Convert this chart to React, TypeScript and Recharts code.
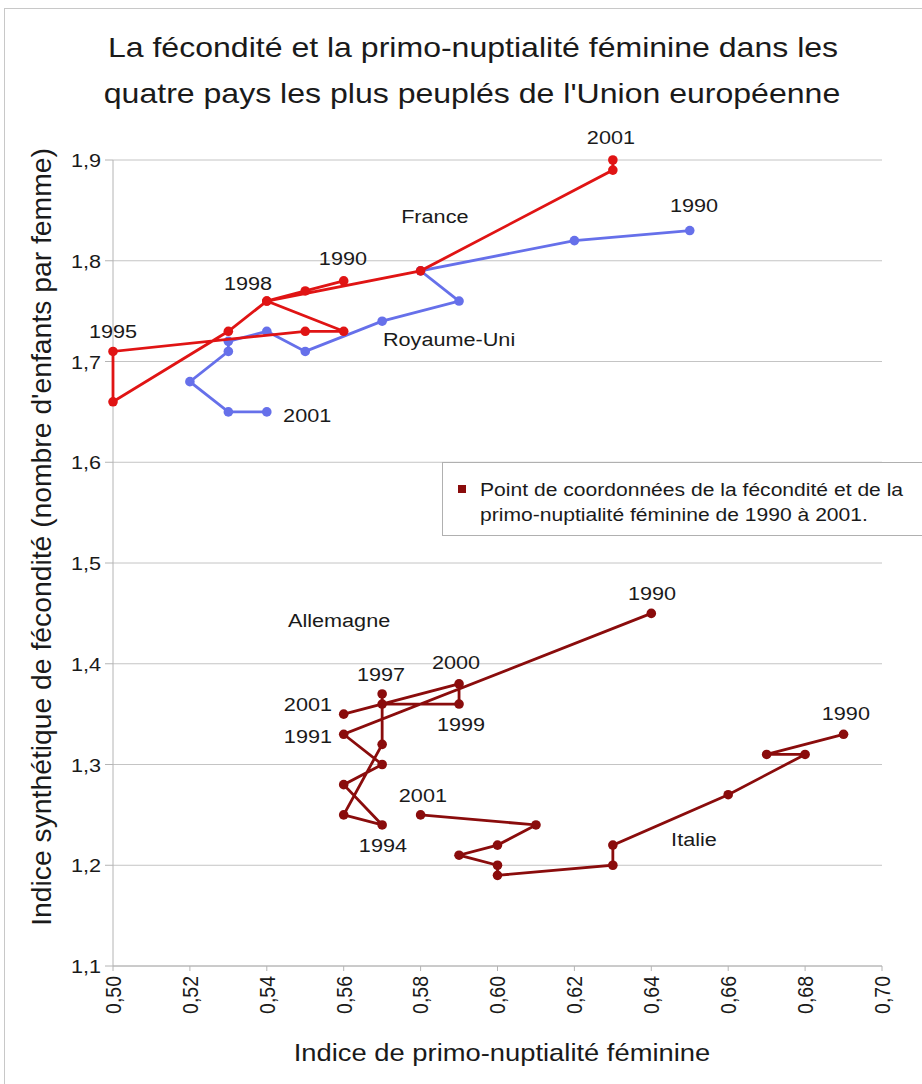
import React from 'react';
import { ScatterChart, Scatter, XAxis, YAxis, CartesianGrid, ReferenceDot } from 'recharts';

// ---- data ----
const years = [1990, 1991, 1992, 1993, 1994, 1995, 1996, 1997, 1998, 1999, 2000, 2001];

const franceX = [0.56, 0.55, 0.54, 0.56, 0.55, 0.50, 0.50, 0.53, 0.54, 0.58, 0.63, 0.63];
const franceY = [1.78, 1.77, 1.76, 1.73, 1.73, 1.71, 1.66, 1.73, 1.76, 1.79, 1.89, 1.90];

const ukX = [0.65, 0.62, 0.58, 0.59, 0.57, 0.55, 0.54, 0.53, 0.53, 0.52, 0.53, 0.54];
const ukY = [1.83, 1.82, 1.79, 1.76, 1.74, 1.71, 1.73, 1.72, 1.71, 1.68, 1.65, 1.65];

const germanyX = [0.64, 0.56, 0.57, 0.56, 0.57, 0.56, 0.57, 0.57, 0.57, 0.59, 0.59, 0.56];
const germanyY = [1.45, 1.33, 1.30, 1.28, 1.24, 1.25, 1.32, 1.37, 1.36, 1.36, 1.38, 1.35];

const italyX = [0.69, 0.67, 0.68, 0.66, 0.63, 0.63, 0.60, 0.60, 0.59, 0.60, 0.61, 0.58];
const italyY = [1.33, 1.31, 1.31, 1.27, 1.22, 1.20, 1.19, 1.20, 1.21, 1.22, 1.24, 1.25];

const xTicks = [0.5, 0.52, 0.54, 0.56, 0.58, 0.6, 0.62, 0.64, 0.66, 0.68, 0.7];
const yTicks = [1.1, 1.2, 1.3, 1.4, 1.5, 1.6, 1.7, 1.8, 1.9];

// annotation texts (anchored in data coordinates)
const noteTexts = ['2001', '1990', 'France', '1990', '1998', '1995', 'Royaume-Uni', '2001',
  '1990', 'Allemagne', '2000', '1997', '2001', '1999', '1991', '1990', '2001', '1994', 'Italie'];
const noteX = [0.6295, 0.6511, 0.5837, 0.5598, 0.5351, 0.5000, 0.5874, 0.5505,
  0.6402, 0.5588, 0.5892, 0.5697, 0.5507, 0.5905, 0.5507, 0.6906, 0.5806, 0.5702, 0.6511];
const noteY = [1.9228, 1.8553, 1.8444, 1.8027, 1.7779, 1.7303, 1.7223, 1.6469,
  1.4702, 1.4434, 1.4017, 1.3898, 1.3601, 1.3402, 1.3283, 1.3511, 1.2697, 1.2201, 1.2261];

const titleLines = [
  'La fécondité et la primo-nuptialité féminine dans les',
  "quatre pays les plus peuplés de l'Union européenne",
];
const xTitle = 'Indice de primo-nuptialité féminine';
const yTitle = "Indice synthétique de fécondité (nombre d'enfants par femme)";
const legendLines = [
  'Point de coordonnées de la fécondité et de la',
  'primo-nuptialité féminine de 1990 à 2001.',
];

// ---- styling ----
const FONT = '"Liberation Sans", Arial, sans-serif';
const SX = 1.14;
const RED = '#e01414';
const BLUE = '#6670ea';
const DARK = '#8a0c0c';
const TEXT = '#1a1a1a';
const AXIS = '#b4b4b4';

const build = (xs: number[], ys: number[]) => xs.map((x, i) => ({ x, y: ys[i], year: years[i] }));
const france = build(franceX, franceY);
const uk = build(ukX, ukY);
const germany = build(germanyX, germanyY);
const italy = build(italyX, italyY);

const comma = (v: number, d: number) => v.toFixed(d).replace('.', ',');

function SText(props: any) {
  const { x, y, size, anchor = 'middle', rotate = 0, fill = TEXT, children, sx = SX } = props;
  return (
    <text
      transform={`translate(${x},${y}) scale(${sx},1)${rotate ? ` rotate(${rotate})` : ''}`}
      x={0}
      y={0}
      fontSize={size}
      fontFamily={FONT}
      textAnchor={anchor}
      fill={fill}
    >
      {children}
    </text>
  );
}

const XTick = (props: any) => {
  const { x, y, payload } = props;
  return (
    <SText x={x + 7.8} y={y + 3} size={19.5} anchor="end" rotate={-90}>
      {comma(payload.value, 2)}
    </SText>
  );
};

const YTick = (props: any) => {
  const { x, y, payload } = props;
  return (
    <SText x={x} y={y + 7} size={19} anchor="end">
      {comma(payload.value, 1)}
    </SText>
  );
};

const dot = (color: string) => (p: any) => <circle cx={p.cx} cy={p.cy} r={4.8} fill={color} />;

const noteLabel = (text: string) => (p: any) => {
  const vb = p.viewBox || {};
  const cx = (vb.x || 0) + (vb.width || 0) / 2;
  const cy = (vb.y || 0) + (vb.height || 0) / 2;
  return (
    <SText x={cx} y={cy + 6.8} size={19}>
      {text}
    </SText>
  );
};

export default function App() {
  return (
    <div style={{ position: 'absolute', left: 0, top: 0, width: 922, height: 1084, background: '#fff' }}>
      <ScatterChart
        width={922}
        height={1084}
        margin={{ top: 160, right: 40, bottom: 58, left: 53 }}
      >
        <CartesianGrid horizontal vertical={false} stroke="#c4c4c4" strokeWidth={1} />
        <XAxis
          type="number"
          dataKey="x"
          domain={[0.5, 0.7]}
          ticks={xTicks}
          height={60}
          stroke={AXIS}
          tickSize={5}
          tickMargin={2}
          tick={<XTick />}
          interval={0}
        />
        <YAxis
          type="number"
          dataKey="y"
          domain={[1.1, 1.9]}
          ticks={yTicks}
          width={60}
          stroke={AXIS}
          tickSize={8}
          tickMargin={4}
          tick={<YTick />}
          interval={0}
        />
        <Scatter
          data={uk}
          fill={BLUE}
          line={{ stroke: BLUE, strokeWidth: 2.8 }}
          lineType="joint"
          shape={dot(BLUE)}
          isAnimationActive={false}
        />
        <Scatter
          data={france}
          fill={RED}
          line={{ stroke: RED, strokeWidth: 2.8 }}
          lineType="joint"
          shape={dot(RED)}
          isAnimationActive={false}
        />
        <Scatter
          data={germany}
          fill={DARK}
          line={{ stroke: DARK, strokeWidth: 2.8 }}
          lineType="joint"
          shape={dot(DARK)}
          isAnimationActive={false}
        />
        <Scatter
          data={italy}
          fill={DARK}
          line={{ stroke: DARK, strokeWidth: 2.8 }}
          lineType="joint"
          shape={dot(DARK)}
          isAnimationActive={false}
        />
        {noteTexts.map((t, i) => (
          <ReferenceDot
            key={i}
            x={noteX[i]}
            y={noteY[i]}
            r={0}
            fill="none"
            stroke="none"
            ifOverflow="visible"
            label={{ content: noteLabel(t) }}
          />
        ))}
      </ScatterChart>
      <svg
        width={922}
        height={1084}
        style={{ position: 'absolute', left: 0, top: 0, pointerEvents: 'none' }}
      >
        <rect x={4.5} y={8.5} width={940} height={1100} fill="none" stroke="#c8c8c8" />
        <SText x={473} y={57} size={28} sx={1.145}>{titleLines[0]}</SText>
        <SText x={472} y={103} size={28} sx={1.145}>{titleLines[1]}</SText>
        <SText x={502} y={1061} size={24}>{xTitle}</SText>
        <SText x={51} y={537} size={28.3} rotate={-90} sx={1.0}>{yTitle}</SText>
        <rect x={442.5} y={462.5} width={500} height={73} fill="#fff" stroke="#b0b0b0" />
        <rect x={458} y={485} width={8} height={8} fill={DARK} />
        <SText x={480} y={496} size={18.5} anchor="start">{legendLines[0]}</SText>
        <SText x={480} y={521} size={18.5} anchor="start">{legendLines[1]}</SText>
      </svg>
    </div>
  );
}
